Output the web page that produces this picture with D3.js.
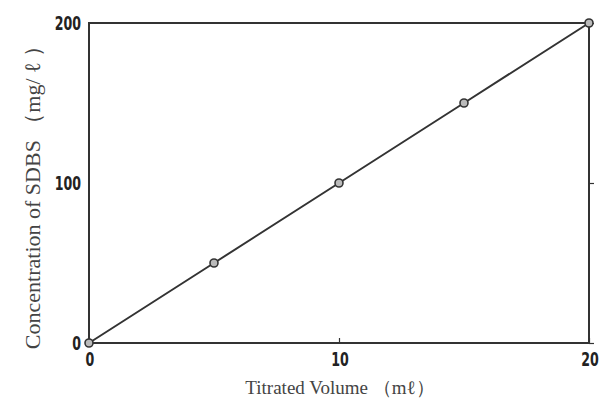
<!DOCTYPE html>
<html>
<head>
<meta charset="utf-8">
<script src="https://cdn.jsdelivr.net/npm/d3@7"></script>
<style>
  body { margin: 0; background: #fff; }
  svg { display: block; }
</style>
</head>
<body>
<svg id="chart" width="602" height="400"></svg>
<script>
const volume = [0, 5, 10, 15, 20];
const concentration = [0, 50, 100, 150, 200];
const xTicks = [0, 10, 20];
const yTicks = [0, 100, 200];

const margin = { left: 89, top: 23, right: 13, bottom: 57 };
const width = 602, height = 400;

const svg = d3.select("#chart");

const x = d3.scaleLinear().domain([0, 20]).range([margin.left, width - margin.right]);
const y = d3.scaleLinear().domain([0, 200]).range([height - margin.bottom, margin.top]);

const ink = "#333";

// frame
svg.append("rect")
  .attr("x", x(0))
  .attr("y", y(200))
  .attr("width", x(20) - x(0))
  .attr("height", y(0) - y(200))
  .attr("fill", "none")
  .attr("stroke", ink)
  .attr("stroke-width", 2);

// small inward ticks
svg.append("g")
  .attr("transform", `translate(0,${y(0)})`)
  .call(d3.axisBottom(x).tickValues(xTicks).tickSize(-5).tickFormat(""))
  .call((g) => g.select(".domain").remove())
  .selectAll("line").attr("stroke", ink).attr("stroke-width", 1.2);

svg.append("g")
  .attr("transform", `translate(${x(20)},0)`)
  .call(d3.axisLeft(y).tickValues(yTicks).tickSize(-5).tickFormat(""))
  .call((g) => g.select(".domain").remove())
  .selectAll("line").attr("stroke", ink).attr("stroke-width", 1.2);

// tick labels: tall, narrow, bold
const tickFont = "'Liberation Sans Narrow', 'DejaVu Sans Condensed', sans-serif";
const squeeze = 0.7;

svg.append("g")
  .selectAll("text")
  .data(xTicks)
  .join("text")
  .attr("transform", (d) => `translate(${x(d) + 1},${y(0) + 23}) scale(${squeeze},1)`)
  .attr("text-anchor", "middle")
  .attr("font-family", tickFont)
  .attr("font-weight", "bold")
  .attr("font-size", 20)
  .attr("fill", "#222")
  .text((d) => d);

svg.append("g")
  .selectAll("text")
  .data(yTicks)
  .join("text")
  .attr("transform", (d) => `translate(${x(0) - 8},${y(d) + 7}) scale(${squeeze},1)`)
  .attr("text-anchor", "end")
  .attr("font-family", tickFont)
  .attr("font-weight", "bold")
  .attr("font-size", 20)
  .attr("fill", "#222")
  .text((d) => d);

// data line
const pts = volume.map((v, i) => [v, concentration[i]]);

svg.append("path")
  .datum(pts)
  .attr("d", d3.line().x((d) => x(d[0])).y((d) => y(d[1])))
  .attr("fill", "none")
  .attr("stroke", ink)
  .attr("stroke-width", 2);

svg.append("g")
  .selectAll("circle")
  .data(pts)
  .join("circle")
  .attr("cx", (d) => x(d[0]))
  .attr("cy", (d) => y(d[1]))
  .attr("r", 4)
  .attr("fill", "#bbb")
  .attr("stroke", ink)
  .attr("stroke-width", 1.6);

// axis titles
const titleFont = "'Liberation Serif', 'DejaVu Serif', serif";

svg.append("text")
  .attr("x", 340)
  .attr("y", 394)
  .attr("text-anchor", "middle")
  .attr("font-family", titleFont)
  .attr("font-size", 19)
  .attr("fill", "#444")
  .text("Titrated Volume （mℓ）");

svg.append("text")
  .attr("transform", `translate(40,${192}) rotate(-90)`)
  .attr("text-anchor", "middle")
  .attr("font-family", titleFont)
  .attr("font-size", 22)
  .attr("fill", "#444")
  .text("Concentration of SDBS （mg/ ℓ ）");
</script>
</body>
</html>
